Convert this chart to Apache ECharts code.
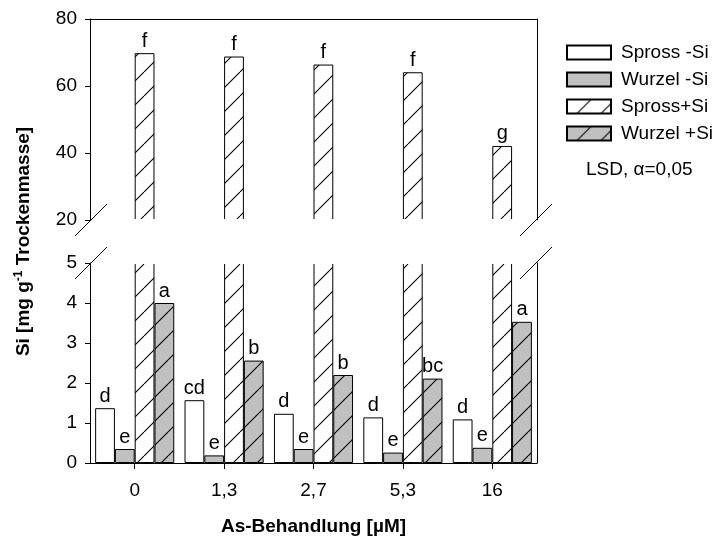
<!DOCTYPE html>
<html><head><meta charset="utf-8">
<script src="https://cdn.jsdelivr.net/npm/echarts@6/dist/echarts.min.js"></script>
<style>html,body{margin:0;padding:0;background:#fff}#c{width:718px;height:547px}</style>
</head><body><div id="c"></div>
<script>
// ---- data ----
const categories = ['0', '1,3', '2,7', '5,3', '16'];
const seriesNames = ['Spross -Si', 'Wurzel -Si', 'Spross+Si', 'Wurzel +Si'];
const sprossMinusSi = [1.37, 1.57, 1.23, 1.14, 1.09];
const wurzelMinusSi = [0.35, 0.19, 0.35, 0.26, 0.38];
const sprossPlusSi = [69.8, 68.8, 66.4, 64.1, 42.1];
const wurzelPlusSi = [4.0, 2.56, 2.2, 2.11, 3.53];
const lettersSprossMinusSi = ['d', 'cd', 'd', 'd', 'd'];
const lettersWurzelMinusSi = ['e', 'e', 'e', 'e', 'e'];
const lettersSprossPlusSi = ['f', 'f', 'f', 'f', 'g'];
const lettersWurzelPlusSi = ['a', 'b', 'b', 'bc', 'a'];
const upperAxis = { min: 20, max: 80, interval: 20 };
const lowerAxis = { min: 0, max: 5, interval: 1 };
const xTitle = 'As-Behandlung [µM]';
const lsdText = 'LSD, α=0,05';

// ---- layout ----
const FONT = 'Liberation Sans, Arial, sans-serif';
const L = 90, R = 537, T1 = 19, B1 = 220, T2 = 263, B2 = 463;
const W = 718, H = 547;

function hatch(bg) {
  const c = document.createElement('canvas');
  c.width = 24; c.height = 24;
  const g = c.getContext('2d');
  g.fillStyle = bg; g.fillRect(0, 0, 24, 24);
  g.strokeStyle = '#000'; g.lineWidth = 1.1;
  for (const o of [-24, 0, 24]) {
    g.beginPath(); g.moveTo(o, 24); g.lineTo(o + 24, 0); g.stroke();
  }
  return { image: c, repeat: 'repeat' };
}

const fills = ['#ffffff', '#c0c0c0', hatch('#ffffff'), hatch('#c0c0c0')];
const valuesList = [sprossMinusSi, wurzelMinusSi, sprossPlusSi, wurzelPlusSi];
const lettersList = [lettersSprossMinusSi, lettersWurzelMinusSi, lettersSprossPlusSi, lettersWurzelPlusSi];
const inUpper = [false, false, true, false];

const labelStyle = (letters) => ({
  show: true, position: 'top', distance: 2, color: '#000',
  fontFamily: FONT, fontSize: 20,
  formatter: p => letters[p.dataIndex]
});

const series = [];
for (let i = 0; i < 4; i++) {
  const itemStyle = { color: fills[i], borderColor: '#000', borderWidth: 1 };
  // lower panel
  series.push({
    type: 'bar', name: seriesNames[i], xAxisIndex: 1, yAxisIndex: 2,
    data: valuesList[i], itemStyle, clip: true,
    barGap: '0%', barCategoryGap: '11.5%',
    label: inUpper[i] ? { show: false } : labelStyle(lettersList[i]),
    emphasis: { disabled: true }
  });
  // upper panel
  series.push({
    type: 'bar', name: seriesNames[i], xAxisIndex: 0, yAxisIndex: 0,
    data: inUpper[i] ? valuesList[i] : valuesList[i].map(() => '-'),
    itemStyle, clip: true,
    barGap: '0%', barCategoryGap: '11.5%',
    label: inUpper[i] ? labelStyle(lettersList[i]) : { show: false },
    emphasis: { disabled: true }
  });
}

const lineStyle = { color: '#000', width: 1 };
const yLeft = (gi, ax) => ({
  type: 'value', gridIndex: gi, position: 'left', min: ax.min, max: ax.max, interval: ax.interval,
  axisLine: { show: true, lineStyle }, axisTick: { show: true, length: 5, lineStyle },
  axisLabel: { color: '#000', fontFamily: FONT, fontSize: 19, margin: 13 },
  splitLine: { show: false }
});
const yRight = (gi, ax) => ({
  type: 'value', gridIndex: gi, position: 'right', min: ax.min, max: ax.max, interval: ax.interval,
  axisLine: { show: true, lineStyle }, axisTick: { show: false },
  axisLabel: { show: false }, splitLine: { show: false }
});

const breakLine = (cx, cy) => ({
  type: 'line', z: 101,
  shape: { x1: cx - 16, y1: cy + 16, x2: cx + 16, y2: cy - 16 },
  style: { stroke: '#000', lineWidth: 1 }
});

const option = {
  animation: false,
  backgroundColor: '#fff',
  grid: [
    { left: L, top: T1, width: R - L, height: B1 - T1 },
    { left: L, top: T2, width: R - L, height: B2 - T2 }
  ],
  xAxis: [
    { type: 'category', gridIndex: 0, data: categories, position: 'top',
      axisLine: { show: true, onZero: false, lineStyle }, axisTick: { show: false },
      axisLabel: { show: false }, splitLine: { show: false } },
    { type: 'category', gridIndex: 1, data: categories, position: 'bottom',
      axisLine: { show: true, onZero: false, lineStyle },
      axisTick: { show: true, alignWithLabel: true, length: 6, lineStyle },
      axisLabel: { color: '#000', fontFamily: FONT, fontSize: 19, margin: 18 },
      name: xTitle, nameLocation: 'middle', nameGap: 54,
      nameTextStyle: { color: '#000', fontFamily: FONT, fontSize: 19, fontWeight: 'bold' },
      splitLine: { show: false } }
  ],
  yAxis: [yLeft(0, upperAxis), yRight(0, upperAxis), yLeft(1, lowerAxis), yRight(1, lowerAxis)],
  legend: {
    orient: 'vertical', left: 561, top: 38, itemWidth: 44, itemHeight: 14, itemGap: 8,
    icon: 'rect', selectedMode: false, data: seriesNames,
    textStyle: { color: '#000', fontFamily: FONT, fontSize: 19, padding: [0, 0, 0, 5] }
  },
  series,
  graphic: [
    { type: 'rect', z: 100, shape: { x: L + 1, y: B1 - 1, width: R - L - 2, height: T2 - B1 + 2 },
      style: { fill: '#fff' } },
    breakLine(L + 1, B1), breakLine(L + 1, T2), breakLine(R - 1, B1), breakLine(R - 1, T2),
    { type: 'text', z: 101, x: 586, y: 160,
      style: { text: lsdText, fill: '#000', font: '19px ' + FONT } },
    { type: 'text', z: 101, x: 24, y: (B1 + T2) / 2, rotation: Math.PI / 2,
      style: {
        text: '{a|Si [mg g}{s|-1}{a| Trockenmasse]}',
        align: 'center', verticalAlign: 'middle',
        rich: {
          a: { fontFamily: FONT, fontSize: 19, fontWeight: 'bold', fill: '#000', lineHeight: 22 },
          s: { fontFamily: FONT, fontSize: 12, fontWeight: 'bold', fill: '#000', lineHeight: 22, verticalAlign: 'top' }
        }
      } }
  ]
};

const chart = echarts.init(document.getElementById('c'), null, { renderer: 'canvas', width: W, height: H });
chart.setOption(option);
</script>
</body></html>
